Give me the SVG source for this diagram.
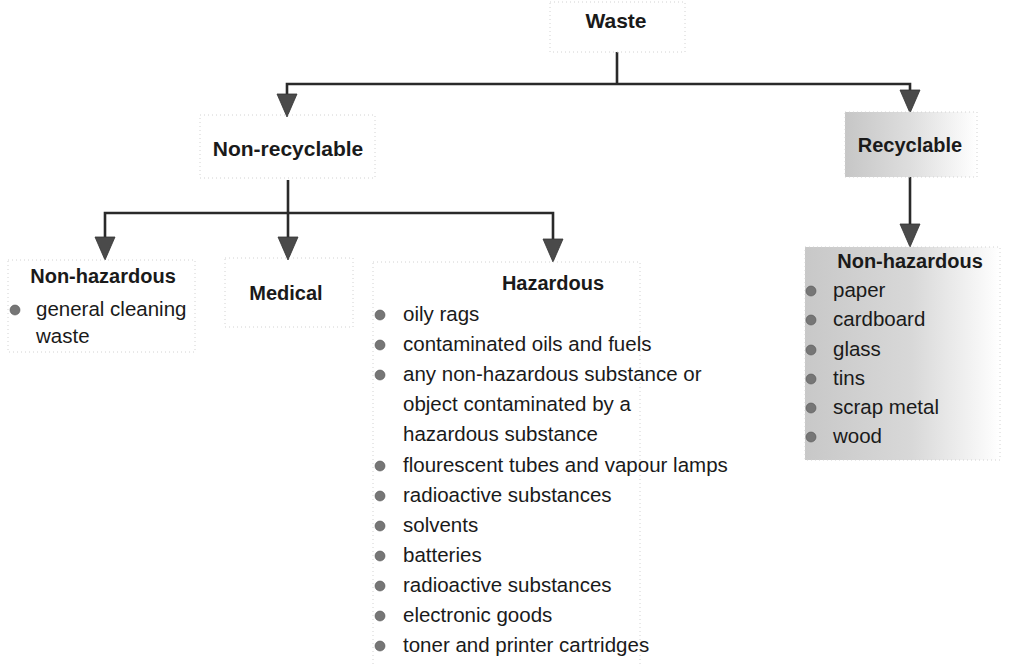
<svg xmlns="http://www.w3.org/2000/svg" xmlns:xlink="http://www.w3.org/1999/xlink" width="1010" height="664" viewBox="0 0 1010 664">
<style>
  text { font-family: "Liberation Sans", Arial, sans-serif; fill: #1a1a1a; }
  .title { font-weight: bold; font-size: 20px; }
  .big { font-weight: bold; font-size: 21px; }
  .item { font-size: 20.5px; }
  .box { fill: none; stroke: #d2d2d2; stroke-width: 1; stroke-dasharray: 1 3; }
  .conn { fill: none; stroke: #2a2a2a; stroke-width: 2.6; }
  .head { fill: #4a4a4a; stroke: #333; stroke-width: 0.8; }
  .bullet { fill: #767676; stroke: #555; stroke-width: 0.6; }
</style>
<defs>
  <path id="ah" d="M-10,-23 L10,-23 L0,0 Z"/>
  <linearGradient id="shadeA" x1="0" y1="0" x2="1" y2="0">
    <stop offset="0" stop-color="#c6c6c6"/>
    <stop offset="0.5" stop-color="#dedede"/>
    <stop offset="1" stop-color="#ffffff"/>
  </linearGradient>
  <linearGradient id="shadeB" x1="0" y1="0" x2="1" y2="0">
    <stop offset="0" stop-color="#c8c8c8"/>
    <stop offset="0.55" stop-color="#d8d8d8"/>
    <stop offset="1" stop-color="#ffffff"/>
  </linearGradient>
</defs>
<rect width="1010" height="664" fill="#ffffff"/>

<g id="connectors">
  <path class="conn" d="M617,52 V84"/>
  <path class="conn" d="M617,84 H287 V96"/>
  <path class="conn" d="M617,84 H910 V92"/>
  <use xlink:href="#ah" href="#ah" class="head" x="287" y="117"/>
  <use xlink:href="#ah" href="#ah" class="head" x="910" y="113"/>
  <path class="conn" d="M288,180 V240"/>
  <path class="conn" d="M288,213 H105 V239"/>
  <path class="conn" d="M288,213 H553 V241"/>
  <use xlink:href="#ah" href="#ah" class="head" x="105" y="260"/>
  <use xlink:href="#ah" href="#ah" class="head" x="288" y="260"/>
  <use xlink:href="#ah" href="#ah" class="head" x="553" y="262"/>
  <path class="conn" d="M910,177 V226"/>
  <use xlink:href="#ah" href="#ah" class="head" x="910" y="247"/>
</g>

<g id="waste">
  <rect class="box" x="550" y="2" width="135" height="50"/>
  <text class="big" x="616" y="28" text-anchor="middle">Waste</text>
</g>

<g id="non-recyclable">
  <rect class="box" x="200" y="115" width="175" height="63"/>
  <text class="big" x="288" y="156" text-anchor="middle">Non-recyclable</text>
</g>

<g id="recyclable">
  <rect x="845" y="112" width="132" height="65" fill="url(#shadeA)"/>
  <rect class="box" x="845" y="112" width="132" height="65"/>
  <text class="title" x="910" y="152" text-anchor="middle">Recyclable</text>
</g>

<g id="nonhaz-left">
  <rect class="box" x="8" y="260" width="187" height="92"/>
  <text class="title" x="103" y="283" text-anchor="middle">Non-hazardous</text>
  <circle class="bullet" cx="15" cy="310" r="5"/>
  <text class="item" x="36" y="316">general cleaning</text>
  <text class="item" x="36" y="343">waste</text>
</g>

<g id="medical">
  <rect class="box" x="225" y="258" width="128" height="69"/>
  <text class="title" x="286" y="300" text-anchor="middle">Medical</text>
</g>

<g id="hazardous">
  <rect class="box" x="373" y="262" width="267" height="410"/>
  <text class="title" x="553" y="290" text-anchor="middle">Hazardous</text>
  <circle class="bullet" cx="380" cy="315" r="5"/>
  <text class="item" x="403" y="321">oily rags</text>
  <circle class="bullet" cx="380" cy="345" r="5"/>
  <text class="item" x="403" y="351">contaminated oils and fuels</text>
  <circle class="bullet" cx="380" cy="375" r="5"/>
  <text class="item" x="403" y="381">any non-hazardous substance or</text>
  <text class="item" x="403" y="411">object contaminated by a</text>
  <text class="item" x="403" y="441">hazardous substance</text>
  <circle class="bullet" cx="380" cy="466" r="5"/>
  <text class="item" x="403" y="472">flourescent tubes and vapour lamps</text>
  <circle class="bullet" cx="380" cy="496" r="5"/>
  <text class="item" x="403" y="502">radioactive substances</text>
  <circle class="bullet" cx="380" cy="526" r="5"/>
  <text class="item" x="403" y="532">solvents</text>
  <circle class="bullet" cx="380" cy="556" r="5"/>
  <text class="item" x="403" y="562">batteries</text>
  <circle class="bullet" cx="380" cy="586" r="5"/>
  <text class="item" x="403" y="592">radioactive substances</text>
  <circle class="bullet" cx="380" cy="616" r="5"/>
  <text class="item" x="403" y="622">electronic goods</text>
  <circle class="bullet" cx="380" cy="646" r="5"/>
  <text class="item" x="403" y="652">toner and printer cartridges</text>
</g>

<g id="nonhaz-right">
  <rect x="805" y="247" width="195" height="213" fill="url(#shadeB)"/>
  <rect class="box" x="805" y="247" width="195" height="213"/>
  <text class="title" x="910" y="268" text-anchor="middle">Non-hazardous</text>
  <circle class="bullet" cx="811" cy="291" r="5"/>
  <text class="item" x="833" y="297">paper</text>
  <circle class="bullet" cx="811" cy="320" r="5"/>
  <text class="item" x="833" y="326">cardboard</text>
  <circle class="bullet" cx="811" cy="350" r="5"/>
  <text class="item" x="833" y="356">glass</text>
  <circle class="bullet" cx="811" cy="379" r="5"/>
  <text class="item" x="833" y="385">tins</text>
  <circle class="bullet" cx="811" cy="408" r="5"/>
  <text class="item" x="833" y="414">scrap metal</text>
  <circle class="bullet" cx="811" cy="437" r="5"/>
  <text class="item" x="833" y="443">wood</text>
</g>
</svg>
